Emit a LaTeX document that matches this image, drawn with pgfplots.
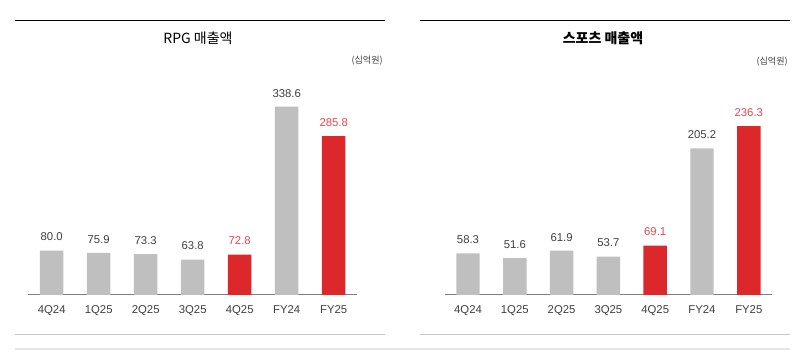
\documentclass[border=0pt]{standalone}
\usepackage{pgfplots}
\pgfplotsset{compat=1.18}
\usepackage{fontspec}
\setmainfont{Liberation Sans}
\newfontfamily\kr{Noto Sans CJK KR}
\definecolor{bargrey}{HTML}{BFBFBF}
\definecolor{barred}{HTML}{DC282A}
\definecolor{labred}{HTML}{E8474D}
\definecolor{labdark}{HTML}{3F3F3F}
\definecolor{basegrey}{HTML}{7F7F7F}
\definecolor{linegrey}{HTML}{C8C8C8}
\definecolor{lightline}{HTML}{E6E6E6}
\pgfplotsset{
  panel/.style={
    scale only axis, clip=false,
    /pgf/number format/assume math mode=true,
    axis x line=bottom, hide y axis,
    axis line style={basegrey, line width=0.75pt, -},
    xmin=-0.5, xmax=6.5, ymin=0,
    xtick={0,...,6}, major tick length=0pt,
    xticklabels={4Q24,1Q25,2Q25,3Q25,4Q25,FY24,FY25},
    xticklabel style={font=\fontsize{8.5}{10}\selectfont, text=labdark, inner sep=0pt, yshift=-7.5pt, anchor=north},
    anchor=south west,
    every node near coord/.append style={font=\fontsize{8.5}{10}\selectfont, inner sep=0pt, yshift=7pt, anchor=south},
    nodes near coords={\pgfmathprintnumber[fixed,fixed zerofill,precision=1,assume math mode=true]{\pgfplotspointmeta}},
  },
  greybar/.style={ybar, bar width=17.6pt, bar shift=0pt, draw=none, fill=bargrey, every node near coord/.append style={text=labdark}},
  redbar/.style={ybar, bar width=17.6pt, bar shift=0pt, draw=none, fill=barred, every node near coord/.append style={text=labred}},
}
\begin{document}
\begin{tikzpicture}
\useasboundingbox (0,0) rectangle (600pt,264pt);
% frame lines
\draw[black, line width=1.1pt] (11.25pt,248.6pt) -- (288.75pt,248.6pt);
\draw[black, line width=1.1pt] (315pt,248.6pt) -- (592.5pt,248.6pt);
\draw[linegrey, line width=0.75pt] (11.25pt,13.3pt) -- (288.75pt,13.3pt);
\draw[linegrey, line width=0.75pt] (315pt,13.3pt) -- (592.5pt,13.3pt);
\draw[lightline, line width=1.6pt] (11.25pt,2.25pt) -- (592.5pt,2.25pt);
% titles
\node[font=\kr\fontsize{10.5}{12}\selectfont, text=black] at (148.5pt,235.5pt) {RPG 매출액};
\node[font=\kr\fontsize{10.5}{12}\selectfont\bfseries, text=black] at (452.25pt,235.5pt) {스포츠 매출액};
\node[font=\kr\fontsize{6.8}{8}\selectfont, text=labdark, anchor=east, inner sep=0pt] at (287.25pt,218.25pt) {(십억원)};
\node[font=\kr\fontsize{6.8}{8}\selectfont, text=labdark, anchor=east, inner sep=0pt] at (591pt,217.5pt) {(십억원)};
% left panel
\begin{axis}[panel, at={(21.15pt,42.75pt)}, width=246.75pt, height=166.8pt, ymax=400]
\addplot[greybar] coordinates {(0,80.0) (1,75.9) (2,73.3) (3,63.8) (5,338.6)};
\addplot[redbar] coordinates {(4,72.8) (6,285.8)};
\end{axis}
% right panel
\begin{axis}[panel, at={(333.45pt,42.75pt)}, width=245.7pt, height=160.9pt, ymax=300]
\addplot[greybar] coordinates {(0,58.3) (1,51.6) (2,61.9) (3,53.7) (5,205.2)};
\addplot[redbar] coordinates {(4,69.1) (6,236.3)};
\end{axis}
\end{tikzpicture}
\end{document}
